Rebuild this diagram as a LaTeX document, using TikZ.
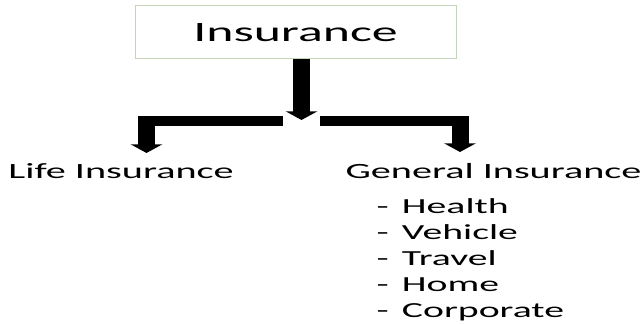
\documentclass[tikz,border=0pt]{standalone}
\usepackage{fontspec}
\setmainfont{Carlito}[FakeStretch=1.85]
\usetikzlibrary{arrows.meta}
\tikzset{every picture/.style={line width=0.75pt}}

\begin{document}
\begin{tikzpicture}[x=0.75pt,y=0.75pt,yscale=-1,xscale=1,
  titlebox/.style={draw={rgb, 255:red, 196; green, 212; blue, 184 },inner sep=0pt,minimum width=240.75pt,minimum height=39.75pt,font=\fontsize{21}{24}\selectfont},
  stem/.style={line width=12.75pt,-{Triangle[width=23.5pt,length=6.5pt]}},
  hbar/.style={line width=7.5pt},
  catname/.style={inner sep=0pt,anchor=base west,font=\fontsize{16.3}{18}\selectfont},
  subitem/.style={inner sep=0pt,anchor=base west,font=\fontsize{16.1}{18}\selectfont}]
\useasboundingbox (0,0) rectangle (642,324);

%Shape: Rectangle
\node [titlebox] (title) at (295.5,32.5) {Insurance};

% Text Node
\node [catname] (life) at (8,178) {Life Insurance};
% Text Node
\node [catname] (general) at (345,179) {General Insurance};
% Text Nodes
\foreach \txt [count=\i] in {Health,Vehicle,Travel,Home,Corporate}
  \node [subitem] (item\i) at (376,{213+26*(\i-1)}) {-\hspace{10pt}\txt};

%Straight Lines
\coordinate (split) at (301.5,120);
\draw [stem] (title.south -| split) -- (split);
%Straight Lines
\coordinate (lbar) at (283,121.5);
\coordinate (lturn) at (150,121.5);
\coordinate (ltop) at (146.5,116.5);
\coordinate (ltip) at (146.5,153);
\draw [hbar] (lbar) -- (lturn);
\draw [stem] (ltop) -- (ltip);
%Straight Lines
\coordinate (rbar) at (320,121.5);
\coordinate (rturn) at (456,121.5);
\coordinate (rtop) at (460,116.5);
\coordinate (rtip) at (460,152);
\draw [hbar] (rbar) -- (rturn);
\draw [stem] (rtop) -- (rtip);

\end{tikzpicture}
\end{document}
